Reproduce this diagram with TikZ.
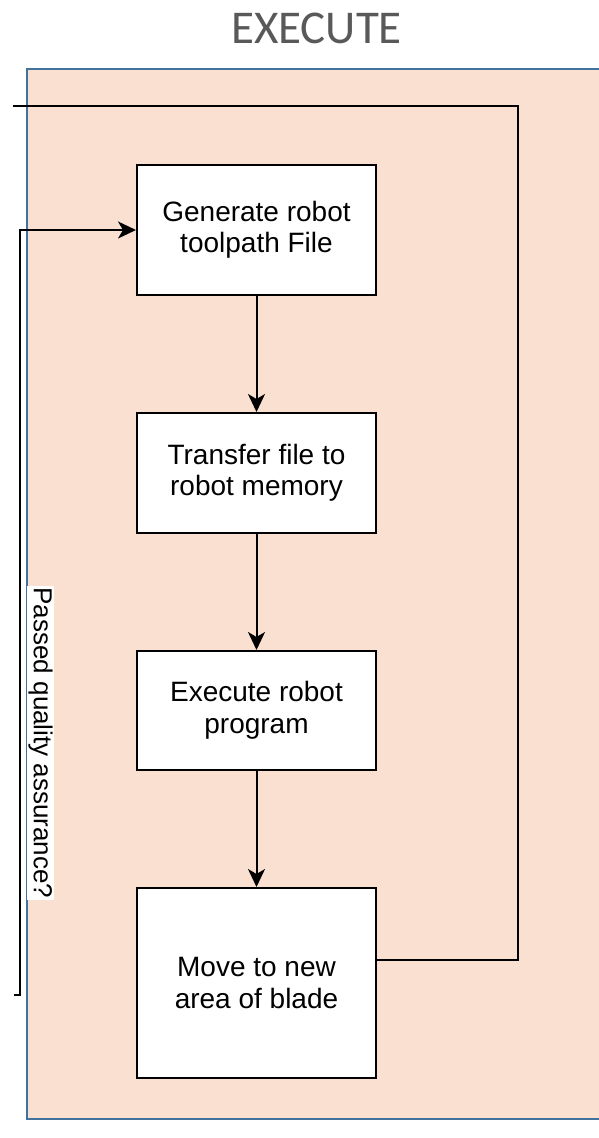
\documentclass[tikz,border=0pt]{standalone}
\usepackage{fontspec}
\setmainfont{Liberation Sans}
\newfontfamily\titlefont{Carlito}
\usetikzlibrary{arrows.meta}
\definecolor{panelfill}{HTML}{FAE0D1}
\definecolor{panelblue}{HTML}{41719C}
\definecolor{titlegray}{HTML}{595959}
\begin{document}
\begin{tikzpicture}[x=1pt,y=-1pt,
  stepbox/.style={draw=black, line width=2pt, fill=white, minimum width=239pt, align=center, font=\fontsize{28}{31.5}\selectfont, inner sep=0pt},
  flow/.style={draw=black, line width=2pt, -{Stealth[length=18pt,width=17pt,inset=5pt]}},
  link/.style={draw=black, line width=2pt},
  qalabel/.style={fill=white, rotate=-90, font=\fontsize{26}{30}\selectfont, inner sep=1.5pt}]
\useasboundingbox (0,0) rectangle (598,1138);
\node[font=\titlefont\fontsize{47}{52}\selectfont, text=titlegray, anchor=base, inner sep=0pt] (title) at (316.5,43) {EXECUTE};
\fill[panelfill] (27,69) rectangle (600,1119);
\draw[panelblue, line width=2.2pt] (600,69) -- (27,69) -- (27,1119) -- (600,1119);
\node[stepbox, minimum height=130pt] (gen) at (256.5,230) {Generate robot\\toolpath File};
\node[stepbox, minimum height=120pt] (xfer) at (256.5,473) {Transfer file to\\robot memory};
\node[stepbox, minimum height=119pt] (exec) at (256.5,710.5) {Execute robot\\program};
\node[stepbox, minimum height=190pt] (move) at (256.5,983) {Move to new\\area of blade};
\draw[flow] (gen) -- (xfer);
\draw[flow] (xfer) -- (exec);
\draw[flow] (exec) -- (move);
\coordinate (qaexit) at (13,106);
\coordinate (qain) at (14,995);
\draw[link] ([yshift=23pt]move.east) -- (518,960) |- (qaexit);
\draw[flow] (qain) -- (20,995) |- (gen.west);
\node[qalabel] (qa) at (40.5,743) {Passed quality assurance?};
\end{tikzpicture}
\end{document}
